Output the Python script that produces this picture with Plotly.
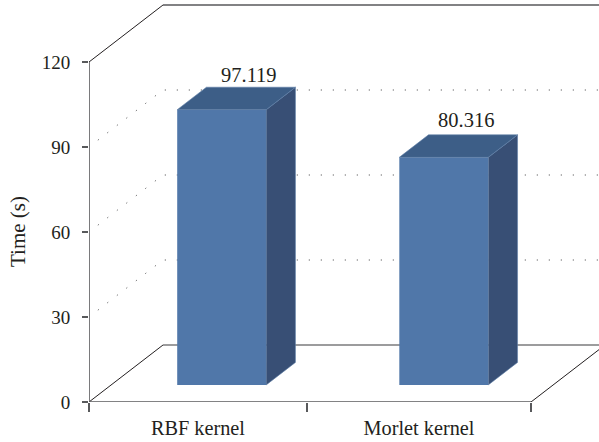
import plotly.graph_objects as go

# Chart data
categories = ["RBF kernel", "Morlet kernel"]
times = [97.119, 80.316]
value_labels = ["97.119", "80.316"]
y_ticks = [0, 30, 60, 90, 120]

# Geometry of the oblique projection, in axis units
DEPTH_X = 74 / 221      # x shift of the full floor depth
DEPTH_Y = 57 / (340 / 120)  # y shift of the full floor depth
BAR_FRONT, BAR_BACK = 0.3, 0.695
BAR_WIDTH = 89 / 221
BAR_SLOTS = [0.5, 1.505]
CATEGORY_EDGES = [0, 0.986, 2]
LABEL_SLOTS = [0.493, 1.493]
LABEL_XSHIFT = [27.5, 22.5]
LABEL_YSHIFT = [35, 37]
X_MAX = 510 / 221
Y_MAX = 402 / (340 / 120)

FONT = "Liberation Serif"
TEXT = "#231f20"
AXIS = "#58595b"
FRONT = "#5077a9"
TOP = "#3d5e87"
SIDE = "#384f75"
EDGE = "#5f7fa8"


def project(x, y, d):
    return x + d * DEPTH_X, y + d * DEPTH_Y


def path(points):
    coords = [f"{x:.4f},{y:.4f}" for x, y in points]
    return "M" + " L".join(coords)


shapes = []


def wall_line(points, color, width, dash="solid"):
    shapes.append(dict(type="path", path=path(points), xref="x", yref="y", layer="below",
                       line=dict(color=color, width=width, dash=dash)))


# Dotted gridlines on the side and back walls
for level in y_ticks[1:4]:
    wall_line([project(0, level, 0.12), project(0, level, 1), project(X_MAX, level, 1)],
              "#3f3f41", 1, "1px,11px")

# Top edge of the walls and the floor outline
wall_line([project(0, 120, 0), project(0, 120, 1)], "#231f20", 1)
wall_line([project(0, 120, 1), project(X_MAX, 120, 1)], AXIS, 1.6)
wall_line([project(0, 0, 0), project(0, 0, 1)], "#231f20", 1)
wall_line([project(0, 0, 1), project(X_MAX, 0, 1)], "#3a3a3c", 1.2)
wall_line([project(2, 0, 0), project(2, 0, 1)], "#231f20", 1)

fig = go.Figure()

# Front faces of the columns, raised onto the floor by the front depth
front_shift_x, front_base = project(0, 0, BAR_FRONT)
front_x = [slot + front_shift_x for slot in BAR_SLOTS]
fig.add_trace(go.Bar(x=front_x, y=times, base=front_base, width=BAR_WIDTH,
                     marker=dict(color=FRONT, line=dict(width=0)), hoverinfo="skip"))

# Top and side faces derived from the same values
for cx, value in zip(BAR_SLOTS, times):
    left, right = cx - BAR_WIDTH / 2, cx + BAR_WIDTH / 2
    top_face = [project(left, value, BAR_FRONT), project(left, value, BAR_BACK),
                project(right, value, BAR_BACK), project(right, value, BAR_FRONT)]
    side_face = [project(right, 0, BAR_FRONT), project(right, value, BAR_FRONT),
                 project(right, value, BAR_BACK), project(right, 0, BAR_BACK)]
    for face, color in ((side_face, SIDE), (top_face, TOP)):
        closed = face + face[:1]
        fig.add_trace(go.Scatter(x=[p[0] for p in closed], y=[p[1] for p in closed],
                                 mode="lines", fill="toself", fillcolor=color,
                                 line=dict(color=EDGE, width=0.6), hoverinfo="skip"))

# Axis lines
fig.add_trace(go.Scatter(x=[0, 0], y=[0, 120], mode="lines", cliponaxis=False,
                         line=dict(color=AXIS, width=1.6), hoverinfo="skip"))
fig.add_trace(go.Scatter(x=[0, 2], y=[0, 0], mode="lines", cliponaxis=False,
                         line=dict(color=AXIS, width=1.6), hoverinfo="skip"))

annotations = []
for cx, value, label, xs, ys in zip(BAR_SLOTS, times, value_labels, LABEL_XSHIFT, LABEL_YSHIFT):
    annotations.append(dict(x=cx + front_shift_x, y=value + front_base, text=label,
                            showarrow=False, xshift=xs, yshift=ys, yanchor="middle",
                            font=dict(family=FONT, size=20.5, color=TEXT)))

# Axis title, centred on the 60 level
annotations.append(dict(xref="paper", x=0, y=60, yref="y", text="Time (s)", textangle=-90,
                        showarrow=False, xshift=-85, font=dict(family=FONT, size=21, color=TEXT)))

fig.update_layout(
    width=599, height=442, margin=dict(l=89, r=0, t=0, b=40, autoexpand=False),
    paper_bgcolor="white", plot_bgcolor="white", showlegend=False,
    shapes=shapes, annotations=annotations,
    font=dict(family=FONT, size=19, color=TEXT),
    xaxis=dict(range=[0, X_MAX], showgrid=False, zeroline=False, showline=False,
               tickmode="array", tickvals=LABEL_SLOTS, ticktext=categories,
               ticks="", ticklabelstandoff=12, tickfont=dict(family=FONT, size=20.3, color=TEXT),
               minor=dict(tickmode="array", tickvals=CATEGORY_EDGES, ticks="outside",
                          ticklen=9, tickwidth=1.6, tickcolor=AXIS, showgrid=False)),
    yaxis=dict(range=[0, Y_MAX], showgrid=False, zeroline=False, showline=False,
               tickmode="array", tickvals=y_ticks, ticks="outside", ticklen=6,
               tickwidth=1.6, tickcolor=AXIS, ticklabelstandoff=8),
)

fig.write_html("out.html")
